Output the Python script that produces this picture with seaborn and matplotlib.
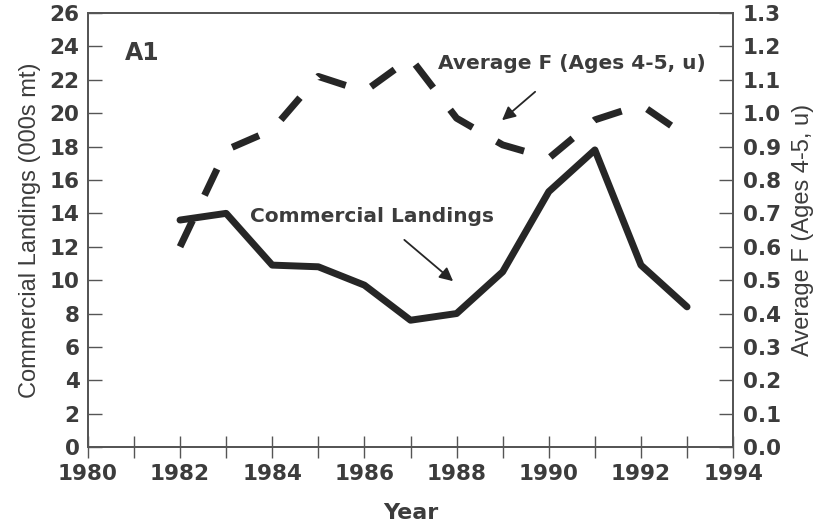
import numpy as np
import pandas as pd
import matplotlib.pyplot as plt
import seaborn as sns
from matplotlib.ticker import MultipleLocator

# Estilo base; a fonte vem depois porque set_style redefine font.family
sns.set_style("ticks")
plt.rcParams['font.family'] = ['DejaVu Sans']

# Dados
anos = list(range(1982, 1994))
desembarques = [13.6, 14.0, 10.9, 10.8, 9.7, 7.6, 8.0, 10.5, 15.3, 17.8, 10.9, 8.4]
f_medio = [0.60, 0.89, 0.95, 1.11, 1.065, 1.165, 0.985, 0.905, 0.865, 0.98, 1.025, 0.93]

df = pd.DataFrame({'Ano': anos, 'Desembarques': desembarques, 'F': f_medio})

cor_linha = '#262626'
cor_texto = '#3c3c3c'
cor_eixo = '#555555'

fig = plt.figure(figsize=(8.21, 5.31), dpi=100)
ax = fig.add_axes([0.107, 0.158, 0.786, 0.8175])
ax2 = ax.twinx()

sns.lineplot(data=df, x='Ano', y='Desembarques', ax=ax, color=cor_linha, linewidth=5)
sns.lineplot(data=df, x='Ano', y='F', ax=ax2, color=cor_linha, linewidth=5)
ax2.lines[0].set_dashes([4.2, 4.0])
ax2.lines[0].set_dash_capstyle('butt')

ax.set_xlim(1980, 1994)
ax.set_ylim(0, 26)
ax2.set_ylim(0, 1.3)

ax.xaxis.set_major_locator(MultipleLocator(2))
ax.xaxis.set_minor_locator(MultipleLocator(1))
ax.yaxis.set_major_locator(MultipleLocator(2))
ax2.yaxis.set_major_locator(MultipleLocator(0.1))
ax2.yaxis.set_major_formatter(plt.FuncFormatter(lambda v, p: f'{v:.1f}'))

ax.tick_params(axis='y', direction='in', length=10, width=1, color=cor_eixo, pad=6,
               labelsize=15.5, labelcolor=cor_texto)
ax.tick_params(axis='x', which='both', direction='inout', length=16, width=1, color=cor_eixo,
               pad=4, labelsize=15.5, labelcolor=cor_texto)
ax2.tick_params(axis='y', direction='in', length=10, width=1, color=cor_eixo, pad=7,
                labelsize=15.5, labelcolor=cor_texto)
for lbl in ax.get_xticklabels() + ax.get_yticklabels() + ax2.get_yticklabels():
    lbl.set_fontweight('bold')

for a in (ax, ax2):
    for s in a.spines.values():
        s.set_color(cor_eixo)
        s.set_linewidth(1.3)

ax.set_xlabel('Year', fontsize=16, fontweight='bold', color=cor_texto, labelpad=14)
ax.set_ylabel('Commercial Landings (000s mt)', fontsize=17, color=cor_texto,
              family='Liberation Sans', labelpad=6)
ax2.set_ylabel('Average F (Ages 4-5, u)', fontsize=17, color=cor_texto,
               family='Liberation Sans', labelpad=8)

ax.text(1980.8, 23.6, 'A1', fontsize=17, fontweight='bold', color=cor_texto,
        ha='left', va='center')

ax.text(1983.52, 13.84, 'Commercial Landings', fontsize=14.5, fontweight='bold',
        color=cor_texto, ha='left', va='center')
ax.annotate('', xy=(1987.97, 9.83), xytext=(1986.82, 12.52),
            arrowprops=dict(arrowstyle='-|>', lw=1.3, color=cor_linha, mutation_scale=20))

ax.text(1987.6, 23.0, 'Average F (Ages 4-5, u)', fontsize=14.5, fontweight='bold',
        color=cor_texto, ha='left', va='center')
ax.annotate('', xy=(1988.94, 19.47), xytext=(1989.75, 21.39),
            arrowprops=dict(arrowstyle='-|>', lw=1.3, color=cor_linha, mutation_scale=20))

fig.savefig('out.png', dpi=100)
